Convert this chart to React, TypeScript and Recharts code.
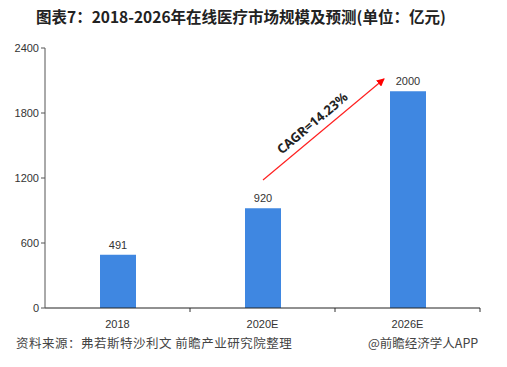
import React from 'react';
import { BarChart, Bar, XAxis, YAxis, LabelList, Customized } from 'recharts';

const years = ['2018', '2020E', '2026E'];
const marketSize = [491, 920, 2000];
const yTicks = [0, 600, 1200, 1800, 2400];

const data = years.map((year, i) => ({ year, value: marketSize[i] }));

const PLOT_LEFT = 45;
const PLOT_RIGHT = 480;
const PLOT_BOTTOM = 308;

function Annotations() {
  const band = (PLOT_RIGHT - PLOT_LEFT) / years.length;
  const ticks = [];
  for (let i = 1; i <= years.length; i++) {
    const x = PLOT_LEFT + band * i;
    ticks.push(<line key={i} x1={x} x2={x} y1={PLOT_BOTTOM} y2={PLOT_BOTTOM + 4} stroke="#333" strokeWidth={1} />);
  }
  return (
    <g>
      {ticks}
      <defs>
        <marker id="arrowHead" markerWidth="8" markerHeight="8" refX="7" refY="4" orient="auto" markerUnits="userSpaceOnUse">
          <path d="M0,0 L8,4 L0,8 Z" fill="#ff0000" />
        </marker>
      </defs>
      <line x1={263} y1={180} x2={384} y2={79} stroke="#ff2020" strokeWidth={1.2} markerEnd="url(#arrowHead)" />
      <text
        x={313}
        y={124}
        textAnchor="middle"
        dominantBaseline="middle"
        transform="rotate(-40 313 124)"
        fontSize={13}
        fontWeight="bold"
        fill="#222"
        fontFamily="'Noto Sans', 'DejaVu Sans', sans-serif"
      >
        CAGR=14.23%
      </text>
    </g>
  );
}

export default function App() {
  return (
    <div style={{ position: 'absolute', left: 0, top: 0, width: 507, height: 367, background: '#fff', fontFamily: "'Noto Sans CJK SC', sans-serif" }}>
      <div style={{ position: 'absolute', left: 36, top: 5, fontSize: 15.5, fontWeight: 'bold', color: '#222', whiteSpace: 'nowrap' }}>
        图表7：2018-2026年在线医疗市场规模及预测(单位：亿元)
      </div>
      <BarChart width={507} height={367} data={data} margin={{ top: 48, right: 27, bottom: 29, left: 0 }}>
        <XAxis
          dataKey="year"
          height={30}
          tickLine={false}
          axisLine={{ stroke: '#222' }}
          tick={{ fill: '#333', fontSize: 11, fontFamily: "'Liberation Sans', Arial, sans-serif" }}
          tickMargin={6}
        />
        <YAxis
          width={45}
          domain={[0, 2400]}
          ticks={yTicks}
          interval={0}
          axisLine={{ stroke: '#555' }}
          tickLine={{ stroke: '#555' }}
          tickSize={4}
          tick={{ fill: '#333', fontSize: 11, fontFamily: "'Liberation Sans', Arial, sans-serif" }}
        />
        <Bar dataKey="value" fill="#3f87e1" barSize={36} isAnimationActive={false}>
          <LabelList dataKey="value" position="top" offset={6} fill="#333" fontSize={11} fontFamily="'Liberation Sans', Arial, sans-serif" />
        </Bar>
        <Customized component={Annotations} />
      </BarChart>
      <div style={{ position: 'absolute', left: 16, top: 333, fontSize: 12.5, color: '#444', whiteSpace: 'nowrap', letterSpacing: 0.5 }}>
        资料来源：弗若斯特沙利文 前瞻产业研究院整理
      </div>
      <div style={{ position: 'absolute', left: 368, top: 333, fontSize: 12.5, color: '#444', whiteSpace: 'nowrap' }}>
        @前瞻经济学人APP
      </div>
    </div>
  );
}
